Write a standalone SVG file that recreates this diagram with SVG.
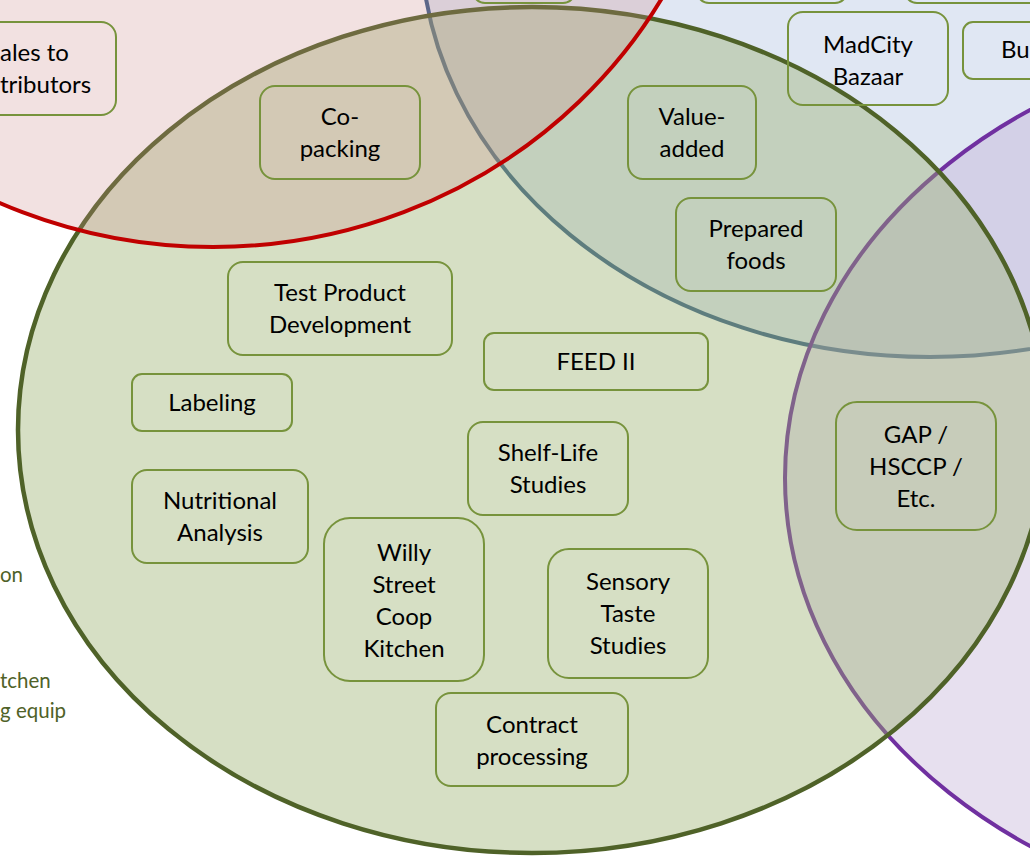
<svg xmlns="http://www.w3.org/2000/svg" width="1030" height="856" viewBox="0 0 1030 856">
<style>
.box{fill:none;stroke:#77933c;stroke-width:2}
.t{font-family:Lato,"Liberation Sans",sans-serif;font-size:24px;fill:#000;text-anchor:middle}
.edge{font-family:Lato,"Liberation Sans",sans-serif;font-size:24px;fill:#000}
.side{font-family:Lato,"Liberation Sans",sans-serif;font-size:20.5px;fill:#4f6228}
</style>
<rect width="1030" height="856" fill="#ffffff"/>
<g id="sets">
<ellipse id="set-blue" cx="930" cy="-60" rx="509" ry="417" fill="#e0e7f3" stroke="#385d8a" stroke-width="4"/>
<ellipse id="set-purple" cx="1345" cy="478" rx="560" ry="445" fill="#baa6d1" fill-opacity="0.35" stroke="#7030a0" stroke-width="4"/>
<ellipse id="set-green" cx="532" cy="430" rx="514" ry="423" fill="#98af6b" fill-opacity="0.4" stroke="#4f6228" stroke-width="4.5"/>
<ellipse id="set-red" cx="213" cy="-250" rx="518" ry="497" fill="#cc8888" fill-opacity="0.25" stroke="#c00000" stroke-width="4"/>
</g>
<g id="connectors"></g>
<g id="n-sales"><rect class="box" x="-58" y="22" width="174" height="93" rx="15"/><text class="edge" x="0" y="61">ales to</text><text class="edge" x="0" y="93">tributors</text></g>
<g id="n-top1"><rect class="box" x="473" y="-60" width="102" height="63" rx="12"/></g>
<g id="n-top2"><rect class="box" x="697" y="-60" width="150" height="63" rx="12"/></g>
<g id="n-top3"><rect class="box" x="905" y="-60" width="170" height="63" rx="12"/></g>
<g id="n-madcity"><rect class="box" x="788" y="12" width="160" height="93" rx="15"/><text class="t" x="868" y="53">MadCity</text><text class="t" x="868" y="85">Bazaar</text></g>
<g id="n-bu"><rect class="box" x="963" y="22" width="160" height="57" rx="10"/><text class="edge" x="1001" y="58">Bu</text></g>
<g id="n-copacking"><rect class="box" x="260" y="86" width="160" height="93" rx="15"/><text class="t" x="340" y="125">Co-</text><text class="t" x="340" y="157">packing</text></g>
<g id="n-valueadded"><rect class="box" x="628" y="86" width="128" height="93" rx="15"/><text class="t" x="692" y="125">Value-</text><text class="t" x="692" y="157">added</text></g>
<g id="n-prepared"><rect class="box" x="676" y="198" width="160" height="93" rx="15"/><text class="t" x="756" y="237">Prepared</text><text class="t" x="756" y="269">foods</text></g>
<g id="n-testproduct"><rect class="box" x="228" y="262" width="224" height="93" rx="15"/><text class="t" x="340" y="301">Test Product</text><text class="t" x="340" y="333">Development</text></g>
<g id="n-feed"><rect class="box" x="484" y="333" width="224" height="57" rx="10"/><text class="t" x="596" y="370">FEED II</text></g>
<g id="n-labeling"><rect class="box" x="132" y="374" width="160" height="57" rx="10"/><text class="t" x="212" y="411">Labeling</text></g>
<g id="n-shelflife"><rect class="box" x="468" y="422" width="160" height="93" rx="15"/><text class="t" x="548" y="461">Shelf-Life</text><text class="t" x="548" y="493">Studies</text></g>
<g id="n-nutritional"><rect class="box" x="132" y="470" width="176" height="93" rx="15"/><text class="t" x="220" y="509">Nutritional</text><text class="t" x="220" y="541">Analysis</text></g>
<g id="n-willy"><rect class="box" x="324" y="518" width="160" height="163" rx="26"/><text class="t" x="404" y="561">Willy</text><text class="t" x="404" y="593">Street</text><text class="t" x="404" y="625">Coop</text><text class="t" x="404" y="657">Kitchen</text></g>
<g id="n-sensory"><rect class="box" x="548" y="549" width="160" height="129" rx="21"/><text class="t" x="628" y="590">Sensory</text><text class="t" x="628" y="622">Taste</text><text class="t" x="628" y="654">Studies</text></g>
<g id="n-contract"><rect class="box" x="436" y="693" width="192" height="93" rx="15"/><text class="t" x="532" y="733">Contract</text><text class="t" x="532" y="765">processing</text></g>
<g id="n-gap"><rect class="box" x="836" y="402" width="160" height="128" rx="21"/><text class="t" x="916" y="443">GAP /</text><text class="t" x="916" y="475">HSCCP /</text><text class="t" x="916" y="507">Etc.</text></g>
<g id="side-notes">
<text class="side" x="0" y="582">on</text>
<text class="side" x="0" y="688">tchen</text>
<text class="side" x="0" y="718">g equip</text>
</g>
</svg>
